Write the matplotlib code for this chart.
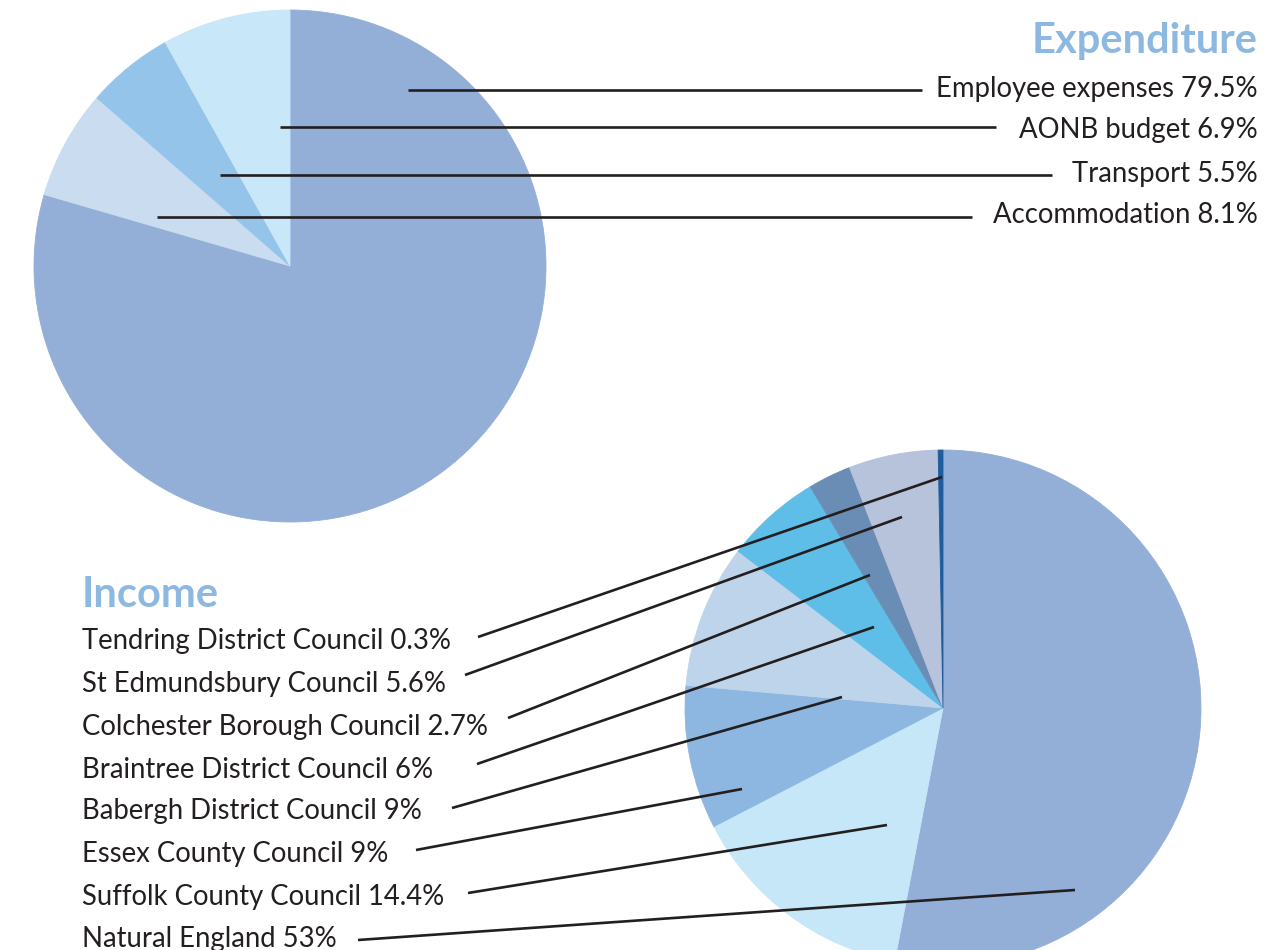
import matplotlib
matplotlib.use('Agg')
import matplotlib.pyplot as plt

# ---------------- data ----------------
exp_labels = ['Employee expenses', 'AONB budget', 'Transport', 'Accommodation']
exp_values = [79.5, 6.9, 5.5, 8.1]
exp_colors = ['#93AFD7', '#C9DCF0', '#94C4EA', '#C8E7F8']

inc_labels = ['Natural England', 'Suffolk County Council', 'Essex County Council',
              'Babergh District Council', 'Braintree District Council',
              'Colchester Borough Council', 'St Edmundsbury Council',
              'Tendring District Council']
inc_values = [53, 14.4, 9, 9, 6, 2.7, 5.6, 0.3]
inc_colors = ['#93AFD7', '#C6E7F8', '#8DB7E0', '#BED4EB', '#5EBEE8',
              '#6A8DB6', '#B7C2DB', '#1F5C9E']

# ---------------- layout (pixels) ----------------
W, H = 1267, 950
TEXT = '#231F20'
TITLE = '#8DB9E1'
FONT = ['Lato', 'DejaVu Sans']

exp_center, exp_radius = (290, 266), 256
inc_center, inc_radius = (943, 708), 258

exp_label_x = 1258
exp_title_y = 53
exp_label_y = [97, 138, 182, 223]          # baselines
exp_lines = [((408, 90), (922, 90)), ((280, 127), (996, 127)),
             ((220, 175), (1052, 175)), ((157, 217), (972, 217))]

inc_label_x = 82
inc_title_y = 607
inc_label_y = [947, 905, 862, 819, 778, 735, 692, 649]   # baselines
inc_lines = [((358, 940), (1075, 890)), ((468, 893), (887, 825)),
             ((416, 850), (742, 789)), ((452, 808), (842, 697)),
             ((477, 764), (874, 627)), ((508, 718), (870, 575)),
             ((465, 675), (902, 517)), ((478, 637), (942, 477))]

fig = plt.figure(figsize=(W / 100, H / 100), dpi=100)
ax = fig.add_axes([0, 0, 1, 1])

for vals, cols, c, r in [(exp_values, exp_colors, exp_center, exp_radius),
                         (inc_values, inc_colors, inc_center, inc_radius)]:
    wedges, _ = ax.pie(vals, colors=cols, startangle=-90, counterclock=True,
                       center=c, radius=r)
    for w in wedges:
        w.set_edgecolor(w.get_facecolor())
        w.set_linewidth(0.6)

ax.set_xlim(0, W)
ax.set_ylim(H, 0)
ax.set_aspect('equal')
ax.axis('off')

# Expenditure
ax.text(exp_label_x, exp_title_y, 'Expenditure', ha='right', va='baseline',
        fontsize=30, fontweight='bold', color=TITLE, family=FONT)
for lab, v, y in zip(exp_labels, exp_values, exp_label_y):
    ax.text(exp_label_x, y, f'{lab} {v:g}%', ha='right', va='baseline',
            fontsize=19.8, color=TEXT, family=FONT)
for (p0, p1) in exp_lines:
    ax.plot([p0[0], p1[0]], [p0[1], p1[1]], color=TEXT, lw=1.9,
            solid_capstyle='butt')

# Income
ax.text(inc_label_x, inc_title_y, 'Income', ha='left', va='baseline',
        fontsize=30, fontweight='bold', color=TITLE, family=FONT)
for lab, v, y in zip(inc_labels, inc_values, inc_label_y):
    ax.text(inc_label_x, y, f'{lab} {v:g}%', ha='left', va='baseline',
            fontsize=19.8, color=TEXT, family=FONT)
for (p0, p1) in inc_lines:
    ax.plot([p0[0], p1[0]], [p0[1], p1[1]], color=TEXT, lw=1.9,
            solid_capstyle='butt')

fig.savefig('out.png', dpi=100)
